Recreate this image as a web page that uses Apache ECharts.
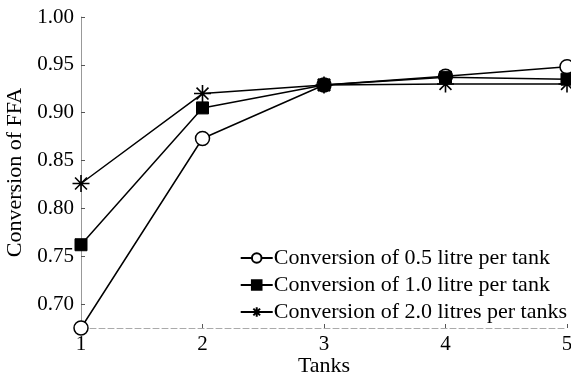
<!DOCTYPE html>
<html><head><meta charset="utf-8">
<script src="https://cdn.jsdelivr.net/npm/echarts@6/dist/echarts.min.js"></script>
<style>html,body{margin:0;padding:0;background:#fff}#c{width:571px;height:378px}</style>
</head><body><div id="c"></div>
<script>
const tanks = [1, 2, 3, 4, 5];
const conv05 = [0.675, 0.873, 0.929, 0.938, 0.948];
const conv10 = [0.762, 0.905, 0.929, 0.937, 0.935];
const conv20 = [0.826, 0.920, 0.929, 0.930, 0.930];
const yTicks = [0.70, 0.75, 0.80, 0.85, 0.90, 0.95, 1.00];
const names = ['Conversion of 0.5 litre per tank', 'Conversion of 1.0 litre per tank', 'Conversion of 2.0 litres per tanks'];

const star = 'path://M0,-10L0,10M-10,0L10,0M-7,-7L7,7M-7,7L7,-7';
const font = '"Liberation Serif", "DejaVu Serif", serif';
const chart = echarts.init(document.getElementById('c'));
function pairs(v){ return tanks.map((t,i)=>[t, v[i]]); }
chart.setOption({
  animation: false,
  textStyle: { fontFamily: font, color: '#000' },
  grid: { left: 81, right: 4, top: 17, bottom: 50, containLabel: false, outerBoundsMode: 'none' },
  legend: {
    orient: 'vertical', right: 4, bottom: 55, padding: 0,
    itemWidth: 32, itemHeight: 12, itemGap: 5,
    textStyle: { fontFamily: font, fontSize: 22, color: '#000', padding: [0, 0, 0, -4] },
    data: names.map(n => ({ name: n }))
  },
  xAxis: {
    type: 'value', min: 1, max: 5, interval: 1,
    name: 'Tanks', nameLocation: 'middle', nameGap: 27, nameMoveOverlap: false,
    nameTextStyle: { fontFamily: font, fontSize: 22, color: '#000' },
    axisLine: { lineStyle: { color: '#aaa', type: [6, 3], width: 1 } },
    axisTick: { inside: true, length: 4, lineStyle: { color: '#555' } },
    axisLabel: { fontFamily: font, fontSize: 21, color: '#000', margin: 6 },
    splitLine: { show: false }
  },
  yAxis: {
    type: 'value', min: 0.675, max: 1.0,
    name: 'Conversion of FFA', nameLocation: 'middle', nameGap: 51, nameRotate: 90,
    nameTextStyle: { fontFamily: font, fontSize: 22, color: '#000' },
    axisLine: { show: true, lineStyle: { color: '#999', width: 1 } },
    axisTick: { show: true, inside: true, length: 4, customValues: yTicks, lineStyle: { color: '#555' } },
    axisLabel: { fontFamily: font, fontSize: 21, color: '#000', margin: 7, customValues: yTicks,
      formatter: v => v.toFixed(2) },
    splitLine: { show: false }
  },
  series: [
    { name: names[0], type: 'line', data: pairs(conv05), symbol: 'circle', symbolSize: 14,
      lineStyle: { color: '#000', width: 1.5 },
      itemStyle: { color: '#fff', borderColor: '#000', borderWidth: 1.5 }, z: 3 },
    { name: names[1], type: 'line', data: pairs(conv10), symbol: 'rect', symbolSize: 12,
      lineStyle: { color: '#000', width: 1.5 },
      itemStyle: { color: '#000', borderColor: '#000', borderWidth: 1 }, z: 4 },
    { name: names[2], type: 'line', data: pairs(conv20), symbol: star, symbolSize: 17,
      lineStyle: { color: '#000', width: 1.5 },
      itemStyle: { color: 'none', borderColor: '#000', borderWidth: 1.6 }, z: 5 }
  ]
});
</script></body></html>
